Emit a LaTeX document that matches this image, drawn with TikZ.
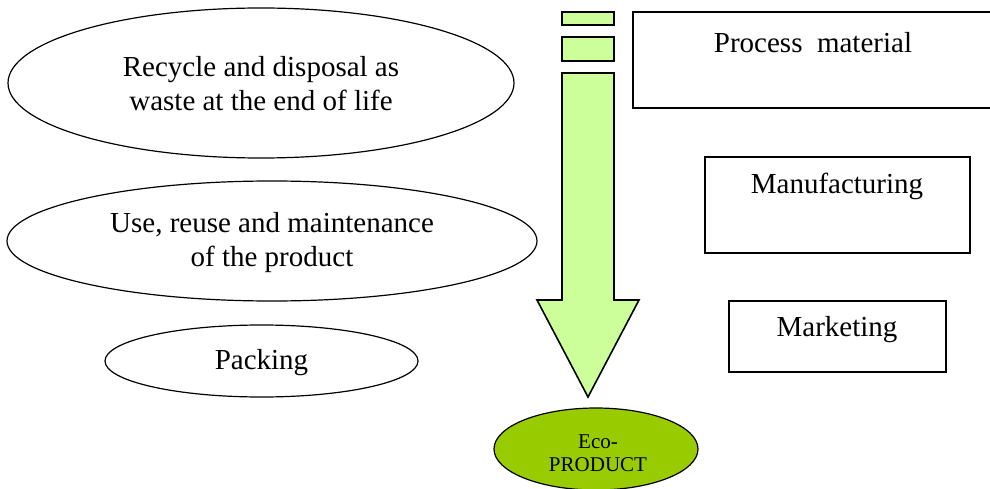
\documentclass[tikz,border=0pt]{standalone}
\usepackage{fontspec}
\setmainfont{Liberation Serif}
\usetikzlibrary{shapes.geometric}
\definecolor{lightgreen}{HTML}{CCFF99}
\definecolor{ecogreen}{HTML}{99CC00}
\tikzset{
  bigtext/.style={font=\fontsize{29}{34}\selectfont, align=center, inner sep=0pt},
  ovalbox/.style={ellipse, draw=black, line width=1.2pt, inner sep=0pt},
  stagebox/.style={rectangle, draw=black, line width=1.6pt, inner sep=0pt},
  flowpart/.style={draw=black, line width=1.6pt, fill=lightgreen, line join=miter},
}
\begin{document}
\begin{tikzpicture}[x=1pt,y=-1pt]
\useasboundingbox (0,0) rectangle (990,489);
% left ellipses
\node[ovalbox, minimum width=506pt, minimum height=150pt] (recycle) at (261,83) {};
\node[bigtext] (recycletxt) at (261,83.5) {Recycle and disposal as\\waste at the end of life};
\node[ovalbox, minimum width=530pt, minimum height=120pt] (use) at (272,241) {};
\node[bigtext] (usetxt) at (272,242.5) {Use, reuse and maintenance\\of the product};
\node[ovalbox, minimum width=313pt, minimum height=72pt] (packing) at (261.5,361) {};
\node[bigtext] (packingtxt) at (261.5,363) {Packing};
% right boxes
\node[stagebox, minimum width=362pt, minimum height=96pt] (process) at (814,60) {};
\node[bigtext] (processtxt) at (813,43) {Process\ \ material};
\node[stagebox, minimum width=265pt, minimum height=96pt] (manuf) at (837.5,205) {};
\node[bigtext] (manuftxt) at (837,186) {Manufacturing};
\node[stagebox, minimum width=217pt, minimum height=71pt] (market) at (837.5,336.5) {};
\node[bigtext] (markettxt) at (837,330) {Marketing};
% green arrow with stripes
\node[flowpart, rectangle, minimum width=52pt, minimum height=13pt, inner sep=0pt] (stripeA) at (588,18.5) {};
\node[flowpart, rectangle, minimum width=52pt, minimum height=24pt, inner sep=0pt] (stripeB) at (588,49) {};
\coordinate (tip) at (588,397);
\draw[flowpart] (562,73) -- (614,73) -- (614,300) -- (639,300) -- (tip) -- (537,300) -- (562,300) -- cycle;
% eco product
\node[ellipse, draw=black, line width=1.2pt, fill=ecogreen, minimum width=204pt, minimum height=82pt, inner sep=0pt] (eco) at (596,449) {};
\node[font=\fontsize{21}{23}\selectfont, align=center, inner sep=0pt] (ecotxt) at (598,453.5) {Eco-\\PRODUCT};
\end{tikzpicture}
\end{document}
